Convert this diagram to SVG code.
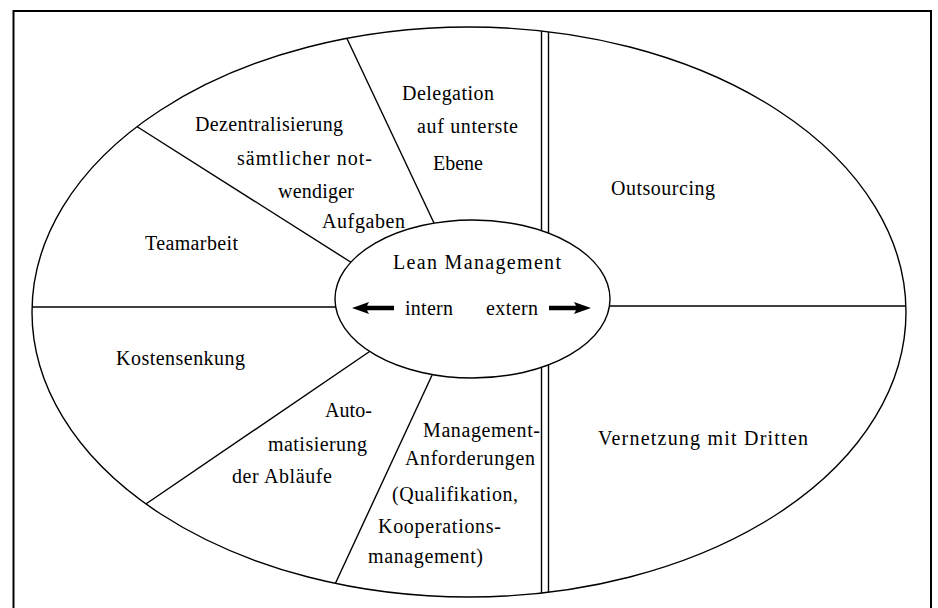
<svg xmlns="http://www.w3.org/2000/svg" width="938" height="608" viewBox="0 0 938 608">
<defs>
<style>
.ln{stroke:#000;stroke-width:1.4;fill:none}
.hub{stroke:#000;stroke-width:1.4;fill:#fff}
.fr{stroke:#000;stroke-width:2;fill:none}
.t{font-family:"Liberation Serif","Times New Roman",serif;font-size:20px;fill:#000}
</style>
<clipPath id="outerClip"><ellipse cx="469" cy="312" rx="437" ry="285"/></clipPath>
</defs>
<rect width="938" height="608" fill="#fff"/>
<path class="fr" d="M13.5,612 V11 H931 V612"/>
<ellipse id="outer" class="ln" cx="469" cy="312" rx="437" ry="285"/>
<g id="connectors" clip-path="url(#outerClip)">
<line class="ln" x1="125" y1="119" x2="360" y2="268"/>
<line class="ln" x1="342" y1="28" x2="442" y2="240"/>
<line class="ln" x1="541.5" y1="20" x2="541.5" y2="600"/>
<line class="ln" x1="548.5" y1="20" x2="548.5" y2="600"/>
<line class="ln" x1="20" y1="307" x2="360" y2="307"/>
<line class="ln" x1="590" y1="306" x2="915" y2="306"/>
<line class="ln" x1="385" y1="341" x2="140" y2="508"/>
<line class="ln" x1="440" y1="358" x2="330" y2="595"/>
</g>
<g id="center">
<ellipse class="hub" cx="472.5" cy="299" rx="137.5" ry="79"/>
<text class="t" x="393" y="269" textLength="168" lengthAdjust="spacing">Lean Management</text>
<text class="t" x="405" y="315" textLength="48" lengthAdjust="spacing">intern</text>
<text class="t" x="486" y="315" textLength="52" lengthAdjust="spacing">extern</text>
<polygon points="352,308 369,302 367,305.8 394,305.8 394,310.2 367,310.2 369,314" fill="#000"/>
<polygon points="591,308 574,302 576,305.8 549,305.8 549,310.2 576,310.2 574,314" fill="#000"/>
</g>
<g id="delegation">
<text class="t" x="402" y="100" textLength="92" lengthAdjust="spacing">Delegation</text>
<text class="t" x="417" y="133" textLength="101" lengthAdjust="spacing">auf unterste</text>
<text class="t" x="433" y="170" textLength="50" lengthAdjust="spacing">Ebene</text>
</g>
<g id="dezentralisierung">
<text class="t" x="195" y="131" textLength="148" lengthAdjust="spacing">Dezentralisierung</text>
<text class="t" x="237" y="165" textLength="135" lengthAdjust="spacing">sämtlicher not-</text>
<text class="t" x="278" y="198" textLength="76" lengthAdjust="spacing">wendiger</text>
<text class="t" x="322" y="228" textLength="83" lengthAdjust="spacing">Aufgaben</text>
</g>
<g id="teamarbeit">
<text class="t" x="145" y="250" textLength="93" lengthAdjust="spacing">Teamarbeit</text>
</g>
<g id="outsourcing">
<text class="t" x="611" y="195" textLength="104" lengthAdjust="spacing">Outsourcing</text>
</g>
<g id="kostensenkung">
<text class="t" x="116" y="365" textLength="129" lengthAdjust="spacing">Kostensenkung</text>
</g>
<g id="automatisierung">
<text class="t" x="325" y="417" textLength="47" lengthAdjust="spacing">Auto-</text>
<text class="t" x="268" y="451" textLength="99" lengthAdjust="spacing">matisierung</text>
<text class="t" x="232" y="483" textLength="100" lengthAdjust="spacing">der Abläufe</text>
</g>
<g id="management">
<text class="t" x="423" y="437" textLength="117" lengthAdjust="spacing">Management-</text>
<text class="t" x="405" y="465" textLength="130" lengthAdjust="spacing">Anforderungen</text>
<text class="t" x="392" y="501" textLength="126" lengthAdjust="spacing">(Qualifikation,</text>
<text class="t" x="378" y="533" textLength="123" lengthAdjust="spacing">Kooperations-</text>
<text class="t" x="368" y="563" textLength="115" lengthAdjust="spacing">management)</text>
</g>
<g id="vernetzung">
<text class="t" x="598" y="445" textLength="210" lengthAdjust="spacing">Vernetzung mit Dritten</text>
</g>
</svg>
